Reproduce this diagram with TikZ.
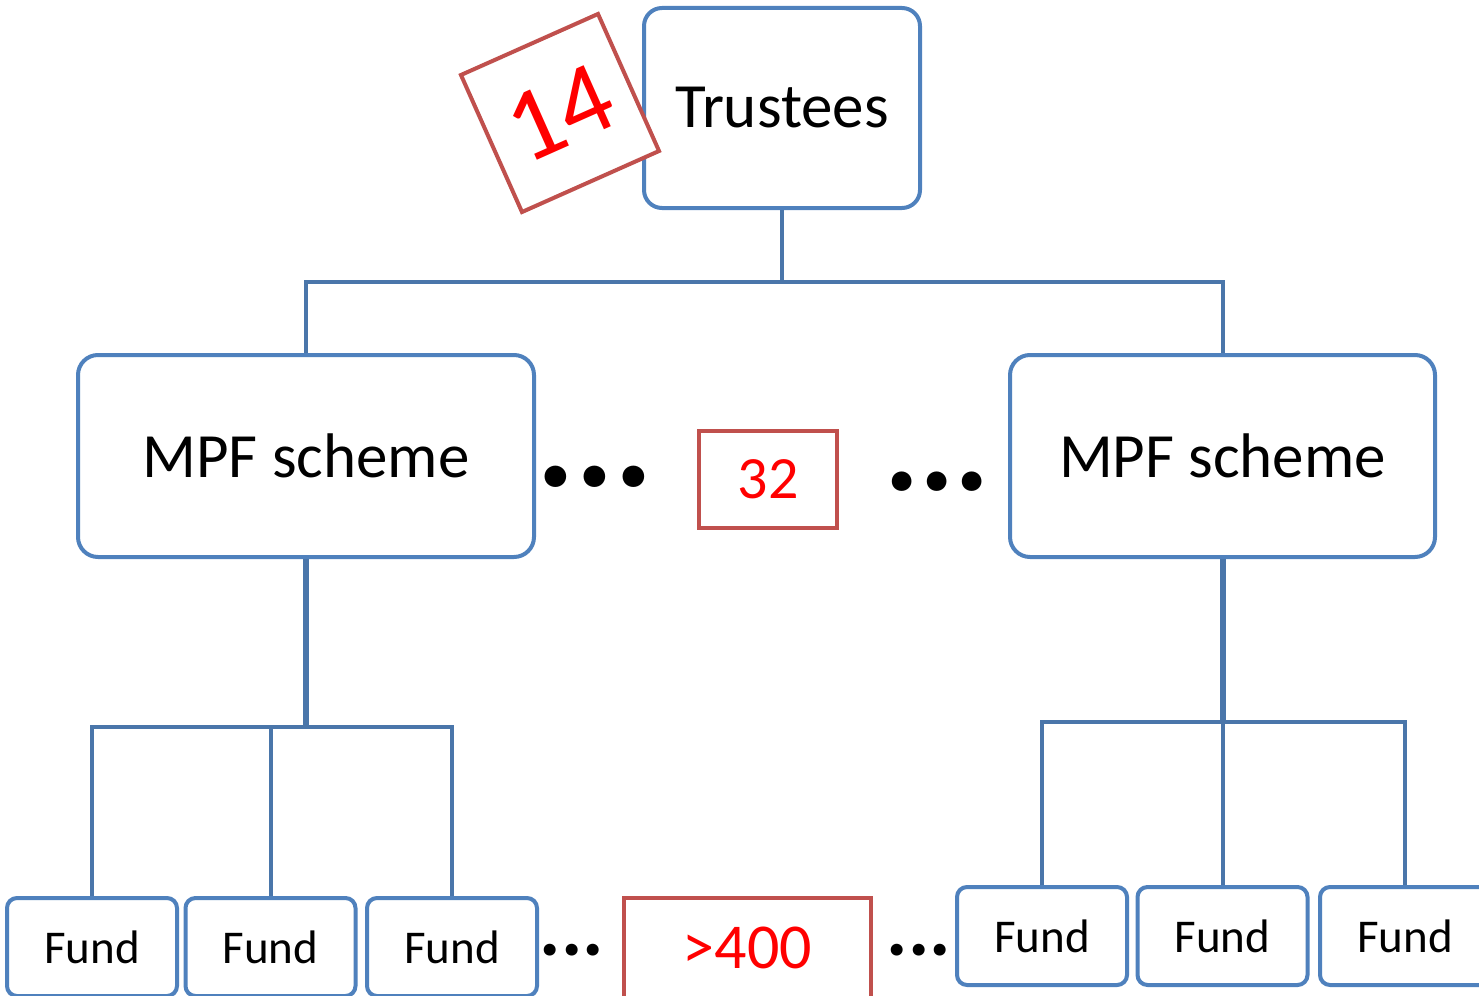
\documentclass[tikz,border=0pt]{standalone}
\usepackage{fontspec}
\setmainfont{Carlito}
\definecolor{boxblue}{HTML}{4F81BD}
\definecolor{lineblue}{HTML}{4A76AA}
\definecolor{boxred}{HTML}{C0504D}
\definecolor{txtred}{HTML}{FF0000}
\begin{document}
\begin{tikzpicture}[x=1pt,y=-1pt,
  bluebox/.style={draw=boxblue,line width=4pt,fill=white,inner sep=0pt,text=black},
  redbox/.style={draw=boxred,line width=4pt,fill=white,inner sep=0pt,text=txtred},
  conn/.style={draw=lineblue,line width=4pt},
  thickconn/.style={draw=lineblue,line width=6pt},
  dots/.style={inner sep=0pt,font=\bfseries}]
\useasboundingbox (0,0) rectangle (1479,995);
% top
\node[bluebox,rounded corners=18pt,minimum width=276pt,minimum height=200pt,font=\fontsize{63}{70}\selectfont] (T) at (782,108) {Trustees};
\node[redbox,rotate=24,minimum width=150pt,minimum height=150pt,font=\fontsize{104}{110}\selectfont] (N14) at (560,113) {14};
% schemes
\node[bluebox,rounded corners=20pt,minimum width=456pt,minimum height=202pt,font=\fontsize{63}{70}\selectfont] (M1) at (306,456) {MPF scheme};
\node[bluebox,rounded corners=20pt,minimum width=425pt,minimum height=202pt,font=\fontsize{63}{70}\selectfont] (M2) at (1222.5,456) {MPF scheme};
\node[redbox,minimum width=138pt,minimum height=97pt,font=\fontsize{60}{66}\selectfont] (N32) at (768,479.5) {32};
\node[dots,font=\fontsize{145}{150}\selectfont\bfseries,anchor=base] (D1) at (595,486) {...};
\node[dots,font=\fontsize{132}{140}\selectfont\bfseries,anchor=base] (D2) at (937,490) {...};
% funds
\tikzset{fund/.style={bluebox,rounded corners=10pt,minimum width=170pt,minimum height=98pt,font=\fontsize{47}{52}\selectfont}}
\node[fund] (F1) at (92,947) {Fund};
\node[fund] (F2) at (270.5,947) {Fund};
\node[fund] (F3) at (452,947) {Fund};
\node[fund] (F4) at (1042,936) {Fund};
\node[fund] (F5) at (1222.5,936) {Fund};
\node[fund] (F6) at (1405,936) {Fund};
\node[redbox,minimum width=247pt,minimum height=100pt,font=\fontsize{64}{70}\selectfont] (N400) at (747.5,948) {>400};
\node[dots,font=\fontsize{80}{86}\selectfont\bfseries,anchor=base] (D3) at (572,955) {...};
\node[dots,font=\fontsize{80}{86}\selectfont\bfseries,anchor=base] (D4) at (919,955) {...};
% connectors
\coordinate (J0) at (782,282);
\draw[conn] (T.south) -- (J0);
\draw[conn] (J0) -| (M1.north);
\draw[conn] (J0) -| (M2.north);
\coordinate (J1) at (306,727);
\coordinate (J2) at (1222.5,722);
\draw[thickconn] (M1.south) -- (J1);
\draw[thickconn] (M2.south) -- (J2);
\draw[conn] (J1) -| (F1.north);
\draw[conn] (J1) -| (F2.north);
\draw[conn] (J1) -| (F3.north);
\draw[conn] (J2) -| (F4.north);
\draw[conn] (J2) -- (F5.north);
\draw[conn] (J2) -| (F6.north);
\end{tikzpicture}
\end{document}
